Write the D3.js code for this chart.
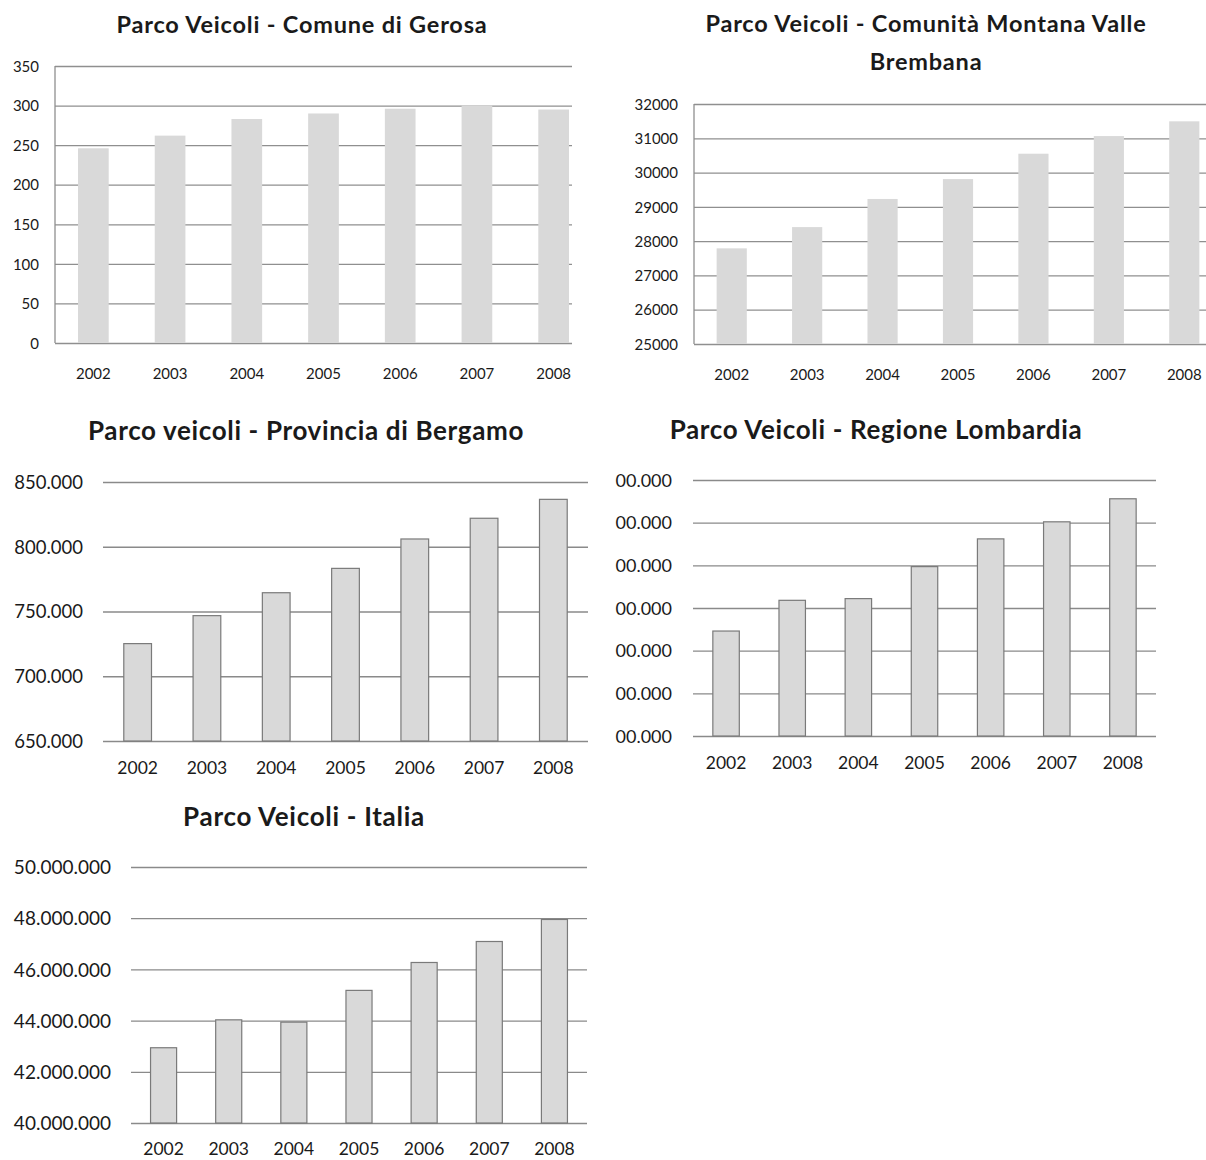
<!DOCTYPE html>
<html>
<head>
<meta charset="utf-8">
<script src="https://cdn.jsdelivr.net/npm/d3@7/dist/d3.min.js"></script>
<style>
  html, body { margin: 0; padding: 0; background: #fff; }
  svg { display: block; }
  text { font-family: Lato, "Open Sans", sans-serif; fill: #1a1a1a; }
</style>
</head>
<body>
<svg id="chart" width="1206" height="1160"></svg>
<script>
// ---------------- DATA ----------------
const years = ["2002", "2003", "2004", "2005", "2006", "2007", "2008"];

const gerosaValues = [246, 262, 283, 290, 296, 300, 295];
const gerosaTicks = [0, 50, 100, 150, 200, 250, 300, 350];

const valleBrembanaValues = [27790, 28410, 29230, 29810, 30550, 31065, 31495];
const valleBrembanaTicks = [25000, 26000, 27000, 28000, 29000, 30000, 31000, 32000];

const bergamoValues = [725200, 746800, 764500, 783300, 806000, 822000, 836600];
const bergamoTicks = [650000, 700000, 750000, 800000, 850000];

// Lombardia axis labels are truncated in the source ("00.000"); values in grid-step units
const lombardiaValues = [2.46, 3.18, 3.22, 3.97, 4.62, 5.02, 5.56];
const lombardiaTicks = [0, 1, 2, 3, 4, 5, 6];
const lombardiaTickLabels = ["00.000", "00.000", "00.000", "00.000", "00.000", "00.000", "00.000"];

const italiaValues = [42940000, 44030000, 43940000, 45180000, 46270000, 47090000, 47950000];
const italiaTicks = [40000000, 42000000, 44000000, 46000000, 48000000, 50000000];

// ---------------- DRAW ----------------
const it = d3.formatLocale({decimal: ",", thousands: ".", grouping: [3], currency: ["", "€"]});
const dotFmt = it.format(",d");
const plainFmt = d3.format("d");

const svg = d3.select("#chart");

function drawChart(cfg) {
  const g = svg.append("g");
  const clipId = "clip" + cfg.id;
  svg.append("defs").append("clipPath").attr("id", clipId)
    .append("rect").attr("x", cfg.x0 - 2).attr("y", cfg.yTop - 5)
    .attr("width", cfg.clipRight - cfg.x0 + 2).attr("height", cfg.yBottom - cfg.yTop + 10);

  // title
  cfg.title.forEach((t, i) => {
    g.append("text")
      .attr("x", cfg.titleX).attr("y", cfg.titleY + i * cfg.titleLead)
      .attr("text-anchor", "middle")
      .style("font-size", cfg.titleSize + "px").style("font-weight", "700")
      .style("letter-spacing", cfg.titleSpacing + "px")
      .attr("fill", "#000")
      .text(t);
  });

  const x = d3.scaleBand().domain(years).range([cfg.x0, cfg.x1])
    .paddingInner(0.6).paddingOuter(0.3);
  const y = d3.scaleLinear().domain(cfg.domain).range([cfg.yBottom, cfg.yTop]);

  const plot = g.append("g").attr("clip-path", `url(#${clipId})`);

  // gridlines
  const yAxis = d3.axisLeft(y).tickValues(cfg.ticks)
    .tickSize(-(cfg.clipRight - cfg.x0)).tickFormat("");
  const grid = plot.append("g").attr("transform", `translate(${cfg.x0},0)`).call(yAxis);
  grid.select(".domain").remove();
  grid.selectAll(".tick line").attr("stroke", cfg.gridColor).attr("stroke-width", 1.3);

  // bars
  plot.selectAll("rect.bar").data(cfg.values).join("rect")
    .attr("class", "bar")
    .attr("x", (d, i) => x(years[i]))
    .attr("width", x.bandwidth())
    .attr("y", d => y(d))
    .attr("height", d => y(cfg.domain[0]) - y(d))
    .attr("fill", "#d9d9d9")
    .attr("stroke", cfg.barStroke ? "#7a7a7a" : "none")
    .attr("stroke-width", 1.2);

  // vertical axis line
  if (cfg.vAxis) {
    g.append("line").attr("x1", cfg.x0).attr("x2", cfg.x0)
      .attr("y1", y(cfg.domain[1])).attr("y2", y(cfg.domain[0]))
      .attr("stroke", cfg.gridColor).attr("stroke-width", 1.3);
  }

  // y tick labels
  const yLab = d3.axisLeft(y).tickValues(cfg.ticks).tickSize(0)
    .tickFormat((d, i) => cfg.tickLabels ? cfg.tickLabels[i] : cfg.fmt(d));
  const yl = g.append("g").attr("transform", `translate(${cfg.labelRight},0)`).call(yLab);
  yl.select(".domain").remove();
  yl.selectAll("text").attr("x", 0).attr("dy", "0.35em")
    .style("font-size", cfg.tickSize + "px").style("font-family", "Lato, sans-serif")
    .attr("fill", "#1a1a1a");

  // x labels
  const xAx = d3.axisBottom(x).tickSize(0);
  const xl = g.append("g").attr("transform", `translate(0,${cfg.xLabelY})`).call(xAx);
  xl.select(".domain").remove();
  xl.selectAll("text").attr("y", 0).attr("dy", "0.35em")
    .style("font-size", cfg.xSize + "px").style("font-family", "Lato, sans-serif")
    .attr("fill", "#1a1a1a");
}

drawChart({
  id: 1, title: ["Parco Veicoli - Comune di Gerosa"], titleX: 302, titleY: 33, titleLead: 0,
  titleSize: 23.5, titleSpacing: 0.8,
  x0: 55, x1: 592, clipRight: 572, yTop: 66, yBottom: 343,
  domain: [0, 350], ticks: gerosaTicks, values: gerosaValues, fmt: plainFmt,
  labelRight: 39, tickSize: 15, xLabelY: 374, xSize: 15,
  gridColor: "#8f8f8f", barStroke: false, vAxis: true
});

drawChart({
  id: 2, title: ["Parco Veicoli - Comunità Montana Valle", "Brembana"], titleX: 926, titleY: 32, titleLead: 38,
  titleSize: 23.5, titleSpacing: 0.8,
  x0: 694, x1: 1222, clipRight: 1206, yTop: 104, yBottom: 344,
  domain: [25000, 32000], ticks: valleBrembanaTicks, values: valleBrembanaValues, fmt: plainFmt,
  labelRight: 678, tickSize: 15, xLabelY: 375, xSize: 15,
  gridColor: "#8f8f8f", barStroke: false, vAxis: true
});

drawChart({
  id: 3, title: ["Parco veicoli - Provincia di Bergamo"], titleX: 306, titleY: 440, titleLead: 0,
  titleSize: 26, titleSpacing: 0.65,
  x0: 103, x1: 588, clipRight: 588, yTop: 482, yBottom: 741,
  domain: [650000, 850000], ticks: bergamoTicks, values: bergamoValues, fmt: dotFmt,
  labelRight: 83, tickSize: 18.5, xLabelY: 768, xSize: 17.5,
  gridColor: "#8a8a8a", barStroke: true, vAxis: false
});

drawChart({
  id: 4, title: ["Parco Veicoli - Regione Lombardia"], titleX: 876, titleY: 439, titleLead: 0,
  titleSize: 26, titleSpacing: 0.65,
  x0: 693, x1: 1156, clipRight: 1156, yTop: 480, yBottom: 736,
  domain: [0, 6], ticks: lombardiaTicks, values: lombardiaValues, tickLabels: lombardiaTickLabels,
  labelRight: 672, tickSize: 18, xLabelY: 763, xSize: 17.5,
  gridColor: "#8a8a8a", barStroke: true, vAxis: false
});

drawChart({
  id: 5, title: ["Parco Veicoli - Italia"], titleX: 304, titleY: 826, titleLead: 0,
  titleSize: 26, titleSpacing: 0.7,
  x0: 131, x1: 587, clipRight: 587, yTop: 867, yBottom: 1123,
  domain: [40000000, 50000000], ticks: italiaTicks, values: italiaValues, fmt: dotFmt,
  labelRight: 111, tickSize: 19, xLabelY: 1149, xSize: 17.5,
  gridColor: "#8a8a8a", barStroke: true, vAxis: false
});
</script>
</body>
</html>
